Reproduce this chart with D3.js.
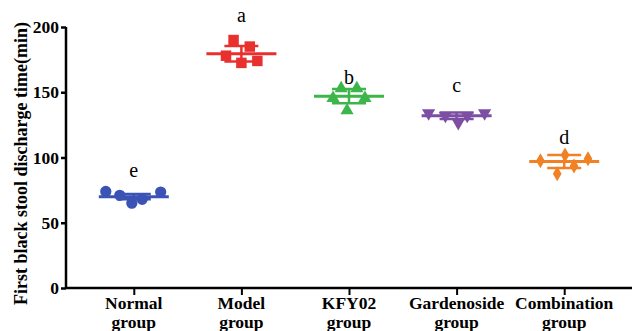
<!DOCTYPE html>
<html>
<head>
<meta charset="utf-8">
<script src="https://cdn.jsdelivr.net/npm/d3@7"></script>
<style>
  html, body { margin: 0; padding: 0; background: #fff; }
  svg { display: block; }
</style>
</head>
<body>
<div id="chart"></div>
<script>
// categories and values
const groups = ['Normal group', 'Model group', 'KFY02 group', 'Gardenoside group', 'Combination group'];
const letters = ['e', 'a', 'b', 'c', 'd'];
const letterAt = [85, 204, 156, 150, 110];
const colors = ['#3a53b4', '#e8302e', '#3cb54a', '#7d4fa4', '#f08125'];
const shapes = ['circle', 'square', 'triangle', 'triangleDown', 'diamond'];
const means = [70, 179.5, 147, 132, 97];
const errors = [2, 6, 5.5, 2.5, 5];
const points = [
  [74, 71, 65, 68, 73.5],
  [178, 190, 172.5, 185, 174],
  [145.5, 153, 136, 153, 145.5],
  [134, 132, 126.5, 132, 134],
  [97.5, 87.5, 102, 93.5, 99]
];
// horizontal spread of each dot inside its group (fraction of half-width)
const spread = [
  [-1, -0.5, -0.07, 0.3, 0.96],
  [-0.55, -0.28, 0, 0.3, 0.57],
  [-0.57, -0.28, -0.07, 0.28, 0.57],
  [-1, -0.4, 0.06, 0.38, 1],
  [-0.85, -0.25, 0.03, 0.35, 0.85]
];
const yTicks = [0, 50, 100, 150, 200];

const W = 633, H = 331;
const margin = { top: 27, right: 1, bottom: 43, left: 66 };

const svg = d3.select('#chart').append('svg')
  .attr('width', W).attr('height', H);

const x = d3.scalePoint()
  .domain(groups)
  .range([margin.left, W - margin.right])
  .padding(0.63);

const y = d3.scaleLinear()
  .domain([0, 200])
  .range([H - margin.bottom, margin.top]);

const jitter = d3.scaleLinear().domain([-1, 1]).range([-28, 28]);

const serif = "'Liberation Serif', 'Times New Roman', serif";

// y axis
const yAxis = svg.append('g')
  .attr('transform', `translate(${margin.left},0)`)
  .call(d3.axisLeft(y).tickValues(yTicks).tickSize(5).tickPadding(2));
yAxis.select('.domain').attr('stroke', '#000').attr('stroke-width', 2.5)
  .attr('d', `M0,${y(200)}V${y(0)}`);
yAxis.selectAll('.tick line').attr('stroke', '#000').attr('stroke-width', 2.5);
yAxis.selectAll('.tick text')
  .attr('font-family', serif).attr('font-weight', 'bold')
  .attr('font-size', 17.5).attr('fill', '#000');

// x axis
const xAxis = svg.append('g')
  .attr('transform', `translate(0,${y(0)})`)
  .call(d3.axisBottom(x).tickSize(7).tickFormat(''));
xAxis.select('.domain').attr('stroke', '#000').attr('stroke-width', 2.5)
  .attr('d', `M${margin.left},0H${W - margin.right}`);
xAxis.selectAll('.tick line').attr('stroke', '#000').attr('stroke-width', 2);

const catLabels = svg.append('g')
  .attr('font-family', serif).attr('font-weight', 'bold')
  .attr('font-size', 17.5).attr('text-anchor', 'middle');
groups.forEach(g => {
  const words = g.split(' ');
  const t = catLabels.append('text').attr('x', x(g)).attr('y', y(0) + 21);
  t.append('tspan').attr('x', x(g)).text(words[0]);
  t.append('tspan').attr('x', x(g)).attr('dy', 18.5).text(words[1]);
});

// y axis title
svg.append('text')
  .attr('transform', `translate(27,${(y(0) + y(200)) / 2 + 6}) rotate(-90)`)
  .attr('text-anchor', 'middle')
  .attr('font-family', serif).attr('font-weight', 'bold')
  .attr('font-size', 18)
  .text('First black stool discharge time(min)');

const symbolType = {
  circle: d3.symbolCircle,
  square: d3.symbolSquare,
  triangle: d3.symbolTriangle,
  triangleDown: d3.symbolTriangle,
  diamond: d3.symbolDiamond
};
const symbolSize = { circle: 100, square: 110, triangle: 75, triangleDown: 75, diamond: 65 };

groups.forEach((g, i) => {
  const cx = x(g);
  const grp = svg.append('g').attr('fill', colors[i]).attr('stroke', colors[i]);

  // points
  points[i].forEach((v, j) => {
    const s = shapes[i];
    grp.append('path')
      .attr('d', d3.symbol().type(symbolType[s]).size(symbolSize[s])())
      .attr('stroke', 'none')
      .attr('transform', `translate(${cx + jitter(spread[i][j])},${y(v)})` + (s === 'triangleDown' ? ' rotate(180)' : ''));
  });

  // mean and error bars
  grp.append('line')
    .attr('x1', cx - 35).attr('x2', cx + 35)
    .attr('y1', y(means[i])).attr('y2', y(means[i]))
    .attr('stroke-width', 3);
  grp.append('line')
    .attr('x1', cx).attr('x2', cx)
    .attr('y1', y(means[i] + errors[i])).attr('y2', y(means[i] - errors[i]))
    .attr('stroke-width', 2.5);
  [1, -1].forEach(sgn => {
    grp.append('line')
      .attr('x1', cx - 17).attr('x2', cx + 17)
      .attr('y1', y(means[i] + sgn * errors[i])).attr('y2', y(means[i] + sgn * errors[i]))
      .attr('stroke-width', 2.5);
  });

  // significance letter
  svg.append('text')
    .attr('x', cx).attr('y', y(letterAt[i]))
    .attr('text-anchor', 'middle')
    .attr('font-family', serif).attr('font-size', 20)
    .attr('fill', '#000')
    .text(letters[i]);
});
</script>
</body>
</html>
